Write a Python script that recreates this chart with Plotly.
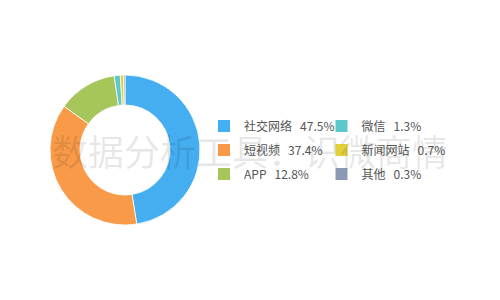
import plotly.graph_objects as go

labels = ["社交网络", "短视频", "APP", "微信", "新闻网站", "其他"]
values = [47.5, 37.4, 12.8, 1.3, 0.7, 0.3]
colors = ["#45AEF0", "#F99A48", "#A6C65A", "#5CC8CC", "#E2D03B", "#8C99B5"]
watermark = "数据分析工具：识微商情"

fig = go.Figure()
fig.add_trace(go.Pie(
    labels=labels, values=values, sort=False, direction="clockwise", rotation=0,
    hole=0.6, textinfo="none", hoverinfo="skip", showlegend=False,
    marker=dict(colors=colors, line=dict(color="white", width=0.8)),
    domain=dict(x=[0.1, 0.4], y=[0.25, 0.75]),
))

for i, (lab, val, col) in enumerate(zip(labels, values, colors)):
    fig.add_trace(go.Scatter(
        x=[None], y=[None], mode="markers",
        marker=dict(symbol="square", size=12, color=col),
        name=f"{lab}\u00a0\u00a0\u00a0{val}%",
        legend="legend" if i < 3 else "legend2",
        legendgroup=lab,
    ))

legend_common = dict(
    font=dict(family="Noto Sans CJK SC", size=12, color="#555555"),
    bgcolor="rgba(0,0,0,0)", traceorder="grouped", tracegroupgap=5,
    yanchor="middle", y=0.5, xanchor="left",
)
fig.update_layout(
    width=500, height=300, margin=dict(l=0, r=0, t=0, b=0),
    paper_bgcolor="white", plot_bgcolor="white",
    xaxis=dict(visible=False), yaxis=dict(visible=False),
    legend=dict(x=0.408, **legend_common),
    legend2=dict(x=0.643, **legend_common),
    annotations=[dict(
        text=watermark, x=0.5, y=0.5, xref="paper", yref="paper",
        showarrow=False, font=dict(family="Noto Sans CJK SC", size=36, color="rgba(0,0,0,0.1)"),
    )],
)
fig.write_html("out.html")
